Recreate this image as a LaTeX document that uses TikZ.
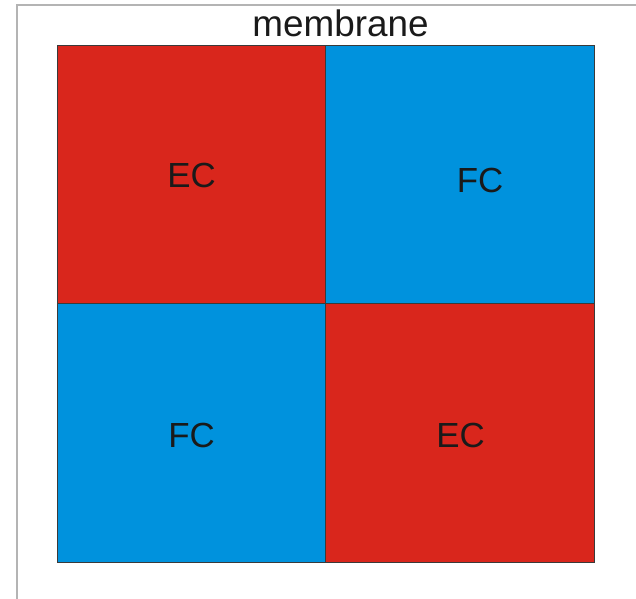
\documentclass[tikz,border=0pt]{standalone}
\usepackage{fontspec}
\setmainfont{Liberation Sans}
\definecolor{ecred}{HTML}{D9261C}
\definecolor{fcblue}{HTML}{0092DD}
\definecolor{celledge}{HTML}{3A3A3A}
\definecolor{framegray}{HTML}{B4B4B4}
\definecolor{txtdark}{HTML}{1A1A1A}
\tikzset{
  cell/.style={draw=celledge, line width=0.9pt},
  ecell/.style={cell, fill=ecred},
  fcell/.style={cell, fill=fcblue},
  celllbl/.style={inner sep=0pt, text=txtdark, font=\fontsize{35}{42}\selectfont},
  titlelbl/.style={inner sep=0pt, text=txtdark, font=\fontsize{37}{44}\selectfont},
  frame/.style={draw=framegray, line width=1.6pt},
}
\begin{document}
\begin{tikzpicture}[x=1bp, y=-1bp]
\useasboundingbox (0,0) rectangle (636,599);

% ── outer frame (only left and top edges show) ────────────────────────
\coordinate (frameBL) at (17,600);
\coordinate (frameTL) at (17,5);
\coordinate (frameTR) at (637,5);
\draw[frame] (frameBL) -- (frameTL) -- (frameTR);

% ── the four quadrants ────────────────────────────────────────────────
\coordinate (sqTL) at (57,45);
\coordinate (sqMid) at (325,303);
\coordinate (sqBR) at (594,562);
\draw[ecell] (sqTL) rectangle (sqMid);
\draw[fcell] (sqTL -| sqMid) rectangle (sqMid -| sqBR);
\draw[fcell] (sqTL |- sqMid) rectangle (sqMid |- sqBR);
\draw[ecell] (sqMid) rectangle (sqBR);

% ── labels ────────────────────────────────────────────────────────────
\node[titlelbl] (title) at (340.5,23.5) {membrane};
\node[celllbl] (ecTop) at (191.5,175) {EC};
\node[celllbl] (fcTop) at (480,180) {FC};
\node[celllbl] (fcBot) at (191.5,435) {FC};
\node[celllbl] (ecBot) at (460.5,435) {EC};

\end{tikzpicture}
\end{document}
